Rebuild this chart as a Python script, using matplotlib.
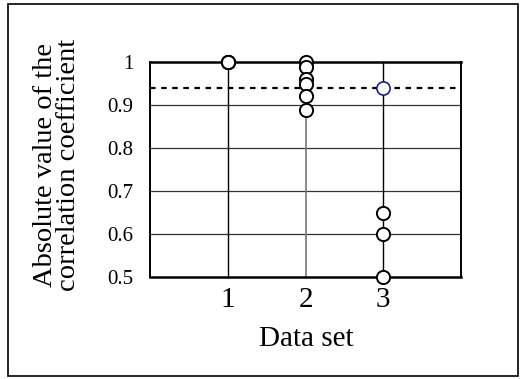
import matplotlib.pyplot as plt
from matplotlib.patches import Rectangle

plt.rcParams['font.family'] = ['Liberation Serif', 'DejaVu Serif']

# correlation coefficients per data set
set1 = [1.0, 1.0, 1.0]
set2 = [1.0, 0.989, 0.96, 0.95, 0.92, 0.888]
set3 = [0.65, 0.60, 0.50]
set3_hl = [0.94]
threshold = 0.94

W, H = 522, 379
fig = plt.figure(figsize=(W / 100, H / 100), dpi=100)

# axes box in pixels: left 150, right 461, top 62, bottom 277
ax = fig.add_axes([150 / W, 1 - 277 / H, (461 - 150) / W, (277 - 62) / H])
ax.set_xlim(0, 4)
ax.set_ylim(0.5, 1.0)

for y in [0.6, 0.7, 0.8, 0.9]:
    ax.axhline(y, color='#333333', lw=0.9, zorder=1)
ax.axvline(1, color='black', lw=1.0, zorder=1)
ax.axvline(2, color='#777777', lw=1.2, zorder=1)
ax.axvline(3, color='black', lw=1.0, zorder=1)

ax.axhline(threshold, color='black', lw=1.6, ls=(0, (2.5, 2.5)), zorder=2)

mk = dict(marker='o', ms=9.5, mfc='white', mec='black', mew=1.4, ls='none',
          clip_on=False, zorder=5)
ax.plot([1] * len(set1), set1, **mk)
ax.plot([2] * len(set2), set2, **mk)
ax.plot([3] * len(set3), set3, **mk)
ax.plot([3] * len(set3_hl), set3_hl, marker='o', ms=9.5, mfc='white',
        mec='#1c1c8c', mew=1.2, ls='none', clip_on=False, zorder=5)

ax.set_xticks([1, 2, 3])
ax.set_yticks([0.5, 0.6, 0.7, 0.8, 0.9, 1.0])
ax.set_yticklabels(['0.5', '0.6', '0.7', '0.8', '0.9', '1'])
ax.tick_params(axis='x', length=0, labelsize=21, pad=7)
ax.tick_params(axis='y', length=0, labelsize=15, pad=12)
for s in ax.spines.values():
    s.set_linewidth(1.4)
ax.spines['top'].set_linewidth(1.8)
ax.spines['bottom'].set_linewidth(1.8)

fig.text(306 / W, 1 - 339 / H, 'Data set', ha='center', va='center', fontsize=21)
fig.text(57 / W, 1 - 165 / H, 'Absolute value of the\ncorrelation coefficient',
         rotation=90, ha='center', va='center', fontsize=20.5, linespacing=0.9)

fig.patches.append(Rectangle((8 / W, 1 - 376 / H), (518 - 8) / W, (376 - 4) / H,
                             transform=fig.transFigure, fill=False,
                             edgecolor='black', lw=1.2))

fig.savefig('out.png', dpi=100)
